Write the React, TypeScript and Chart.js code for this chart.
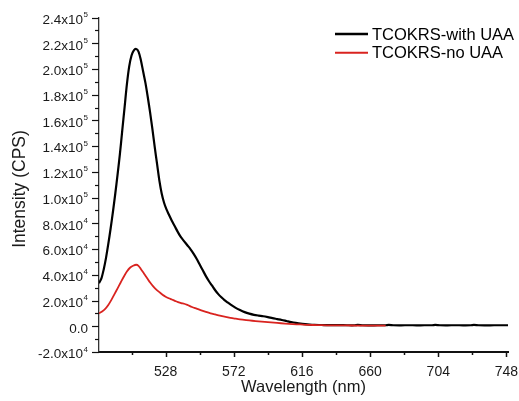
import { useEffect, useRef } from 'react';
import { Chart, registerables } from 'chart.js';

Chart.register(...registerables);

// ---------- data ----------
const SERIES_NAMES = ['TCOKRS-with UAA', 'TCOKRS-no UAA'];

const WAVELENGTH_WITH_UAA = [
  485, 486.5, 488, 489.5, 491, 492.5, 494, 495.5, 497, 498.5, 500, 501.5, 503, 504.5, 506, 507.5,
  509, 510.5, 512, 513.5, 515, 516.5, 518, 519.5, 521, 522.5, 524, 525.5, 527, 528.5, 530, 532,
  534, 536, 538, 540, 542, 544, 546, 548, 550, 552, 554, 556, 558, 560, 562, 564, 566, 568, 570,
  573, 576, 579, 582, 585, 588, 591, 594, 597, 600, 603, 606, 609, 612, 615, 618, 621, 624, 627,
  630, 635, 640, 645, 650, 652, 655, 660, 665, 670, 672, 675, 680, 685, 690, 695, 700, 702, 705,
  710, 715, 720, 725, 727, 730, 735, 740, 745, 749,
];
const INTENSITY_WITH_UAA = [
  33500, 37000, 44000, 53000, 64000, 76000, 89000, 103000, 118000, 134000, 152000, 170000, 188000,
  202000, 210500, 214500, 215500, 213500, 207000, 198000, 189000, 178000, 166000, 153000, 139000,
  126000, 113000, 103000, 96000, 91000, 87000, 82000, 77500, 73000, 69000, 66000, 63000, 60000,
  56500, 52500, 48000, 43500, 39000, 35000, 31500, 28000, 25000, 22500, 20300, 18500, 16800,
  14500, 12600, 11000, 9800, 8900, 8300, 7800, 7100, 6300, 5600, 4900, 4100, 3300, 2600, 2000,
  1600, 1300, 1100, 1000, 950, 900, 850, 800, 800, 1100, 800, 750, 800, 800, 1100, 800, 750, 800,
  750, 800, 800, 1100, 800, 750, 800, 750, 800, 1100, 800, 750, 800, 800, 800,
];

const WAVELENGTH_NO_UAA = [
  485, 487, 489, 491, 493, 495, 497, 499, 501, 503, 505, 507, 509, 510.5, 512, 514, 516, 518, 520,
  522, 524, 526, 528, 530, 532, 534, 536, 538, 540, 542, 545, 548, 551, 554, 557, 560, 563, 566,
  569, 572, 576, 580, 584, 588, 592, 596, 600, 605, 610, 615, 620, 626, 632, 640, 648, 656, 664,
  670,
];
const INTENSITY_NO_UAA = [
  10000, 11500, 13500, 16500, 20500, 25000, 29500, 34000, 38500, 42500, 45500, 47000, 47800, 47000,
  44500, 41000, 37500, 34000, 31000, 28500, 26500, 24500, 23000, 21800, 20800, 19800, 18800, 18000,
  17500, 16600, 15000, 13700, 12400, 11200, 10100, 9200, 8300, 7500, 6800, 6200, 5400, 4800, 4300,
  3800, 3400, 3000, 2600, 2100, 1700, 1400, 1100, 900, 750, 650, 600, 550, 550, 550,
];

const X_MIN = 485;
const X_MAX = 749;
const X_MAJOR_TICKS = [528, 572, 616, 660, 704, 748];
const X_MINOR_TICKS = [506, 550, 594, 638, 682, 726];

const Y_MIN = -20000;
const Y_MAX = 240000;
const Y_MAJOR_TICKS = [
  -20000, 0, 20000, 40000, 60000, 80000, 100000, 120000, 140000, 160000, 180000, 200000, 220000,
  240000,
];
const Y_TICK_MANTISSA = [
  '-2.0x10', '0.0', '2.0x10', '4.0x10', '6.0x10', '8.0x10', '1.0x10', '1.2x10', '1.4x10', '1.6x10',
  '1.8x10', '2.0x10', '2.2x10', '2.4x10',
];
const Y_TICK_EXPONENT = ['4', '', '4', '4', '4', '4', '5', '5', '5', '5', '5', '5', '5', '5'];
const Y_MINOR_TICKS = [
  -10000, 10000, 30000, 50000, 70000, 90000, 110000, 130000, 150000, 170000, 190000, 210000,
  230000,
];

const X_TITLE = 'Wavelength (nm)';
const Y_TITLE = 'Intensity (CPS)';

const COLOR_WITH = '#000000';
const COLOR_NO = '#d9231f';
const FONT = '"Liberation Sans", Arial, sans-serif';

const toPoints = (xs: number[], ys: number[]) => xs.map((x, i) => ({ x, y: ys[i] }));

const originPlugin = {
  id: 'originStyle',
  afterDraw(chart: any) {
    const { ctx, chartArea } = chart;
    const xs = chart.scales.x;
    const ys = chart.scales.y;
    ctx.save();
    ctx.strokeStyle = '#111';
    ctx.fillStyle = '#1a1a1a';

    // y ticks
    ctx.lineWidth = 1.2;
    const drawYTick = (v: number, len: number) => {
      const py = Math.round(ys.getPixelForValue(v)) + 0.5;
      ctx.beginPath();
      ctx.moveTo(chartArea.left - len, py);
      ctx.lineTo(chartArea.left, py);
      ctx.stroke();
    };
    Y_MAJOR_TICKS.forEach((v) => drawYTick(v, 7));
    Y_MINOR_TICKS.forEach((v) => drawYTick(v, 4));

    // x ticks
    ctx.lineWidth = 1.5;
    const drawXTick = (v: number, len: number) => {
      const px = Math.round(xs.getPixelForValue(v)) + 0.5;
      ctx.beginPath();
      ctx.moveTo(px, chartArea.bottom);
      ctx.lineTo(px, chartArea.bottom + len);
      ctx.stroke();
    };
    X_MAJOR_TICKS.forEach((v) => drawXTick(v, 5));
    X_MINOR_TICKS.forEach((v) => drawXTick(v, 3));

    // y tick labels
    const rightEdge = chartArea.left - 11;
    Y_MAJOR_TICKS.forEach((v, i) => {
      const py = ys.getPixelForValue(v);
      const exp = Y_TICK_EXPONENT[i];
      ctx.textAlign = 'right';
      ctx.textBaseline = 'alphabetic';
      let right = rightEdge;
      if (exp) {
        ctx.font = `8px ${FONT}`;
        ctx.fillText(exp, right, py - 0.5);
        right -= ctx.measureText(exp).width + 0.5;
      }
      ctx.font = `13.5px ${FONT}`;
      ctx.fillText(Y_TICK_MANTISSA[i], right, py + 6.3);
    });

    // x tick labels
    ctx.font = `14px ${FONT}`;
    ctx.textAlign = 'center';
    ctx.textBaseline = 'alphabetic';
    X_MAJOR_TICKS.forEach((v) => {
      const px = xs.getPixelForValue(v);
      ctx.fillText(String(v), px, chartArea.bottom + 23.5);
    });

    // axis titles
    ctx.font = `16.5px ${FONT}`;
    ctx.fillText(X_TITLE, (chartArea.left + chartArea.right) / 2, chartArea.bottom + 39.5);
    ctx.save();
    ctx.font = `17.5px ${FONT}`;
    ctx.translate(20, 189);
    ctx.rotate(-Math.PI / 2);
    ctx.textAlign = 'center';
    ctx.textBaseline = 'middle';
    ctx.fillText(Y_TITLE, 0, 0);
    ctx.restore();

    // legend
    const legendColors = [COLOR_WITH, COLOR_NO];
    const legendWidths = [2.5, 2];
    SERIES_NAMES.forEach((name, i) => {
      const ly = 34 + i * 18.7;
      ctx.strokeStyle = legendColors[i];
      ctx.lineWidth = legendWidths[i];
      ctx.beginPath();
      ctx.moveTo(335, ly);
      ctx.lineTo(368, ly);
      ctx.stroke();
      ctx.font = `16.5px ${FONT}`;
      ctx.textAlign = 'left';
      ctx.textBaseline = 'middle';
      ctx.fillStyle = '#000';
      ctx.fillText(name, 372, ly + 1);
    });

    ctx.restore();
  },
};

export default function App() {
  const canvasRef = useRef<HTMLCanvasElement | null>(null);

  useEffect(() => {
    document.body.style.margin = '0';
    document.body.style.background = '#ffffff';
    const canvas = canvasRef.current;
    if (!canvas) return;
    const chart = new Chart(canvas, {
      type: 'line',
      data: {
        datasets: [
          {
            label: SERIES_NAMES[0],
            data: toPoints(WAVELENGTH_WITH_UAA, INTENSITY_WITH_UAA),
            borderColor: COLOR_WITH,
            borderWidth: 2.2,
            pointRadius: 0,
            tension: 0.3,
            fill: false,
            order: 1,
          },
          {
            label: SERIES_NAMES[1],
            data: toPoints(WAVELENGTH_NO_UAA, INTENSITY_NO_UAA),
            borderColor: COLOR_NO,
            borderWidth: 1.8,
            pointRadius: 0,
            tension: 0.3,
            fill: false,
            order: 0,
          },
        ],
      },
      options: {
        animation: false,
        responsive: false,
        devicePixelRatio: 1,
        layout: { padding: { top: 17.5, right: 11, left: 0, bottom: 0 } },
        plugins: { legend: { display: false }, tooltip: { enabled: false } },
        scales: {
          x: {
            type: 'linear',
            min: X_MIN,
            max: X_MAX,
            grid: { display: false },
            ticks: { display: false },
            border: { display: true, color: '#111', width: 2 },
            afterFit: (s: any) => {
              s.height = 49;
            },
          },
          y: {
            type: 'linear',
            min: Y_MIN,
            max: Y_MAX,
            grid: { display: false },
            ticks: { display: false },
            border: { display: true, color: '#333', width: 1.3 },
            afterFit: (s: any) => {
              s.width = 99;
            },
          },
        },
      },
      plugins: [originPlugin],
    });
    return () => chart.destroy();
  }, []);

  return (
    <div style={{ width: 519, height: 401, background: '#fff' }}>
      <canvas ref={canvasRef} width={519} height={401} style={{ display: 'block' }} />
    </div>
  );
}
